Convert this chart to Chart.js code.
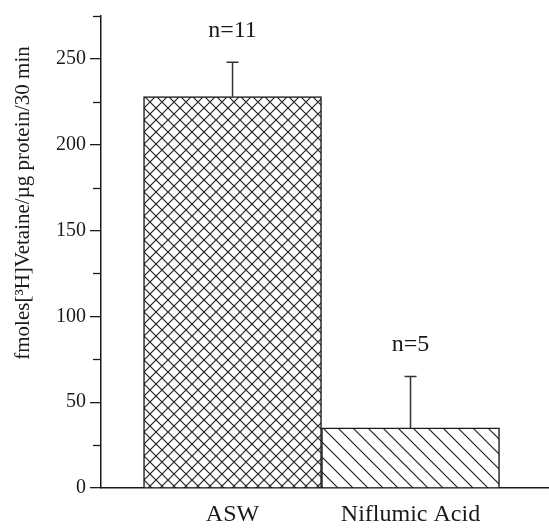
<!DOCTYPE html>
<html>
<head>
<meta charset="utf-8">
<script src="https://cdn.jsdelivr.net/npm/chart.js@4"></script>
<style>
  html, body { margin: 0; padding: 0; background: #fff; }
  #wrap { width: 549px; height: 530px; }
</style>
</head>
<body>
<div id="wrap"><canvas id="c" width="549" height="530"></canvas></div>
<script>
// Betaine uptake under two conditions
const categories = ['ASW', 'Niflumic Acid'];
const uptakeMean = [228, 35];
const uptakeSE = [20, 30];
const sampleLabels = ['n=11', 'n=5'];
const majorTicks = [0, 50, 100, 150, 200, 250];
const minorTicks = [25, 75, 125, 175, 225, 275];
const yTitle = 'fmoles[\u00B3H]Vetaine/\u00B5g protein/30 min';

const SERIF = '"Liberation Serif", "Times New Roman", serif';
const INK = '#1a1a1a';

function crossHatch() {
  const s = 12, c = document.createElement('canvas');
  c.width = s; c.height = s;
  const g = c.getContext('2d');
  g.fillStyle = '#fff'; g.fillRect(0, 0, s, s);
  g.strokeStyle = '#222'; g.lineWidth = 1.2;
  g.beginPath();
  g.moveTo(-1, -1); g.lineTo(s + 1, s + 1);
  g.moveTo(s + 1, -1); g.lineTo(-1, s + 1);
  g.stroke();
  return g.createPattern(c, 'repeat');
}
function diagHatch() {
  const s = 15, c = document.createElement('canvas');
  c.width = s; c.height = s;
  const g = c.getContext('2d');
  g.fillStyle = '#fff'; g.fillRect(0, 0, s, s);
  g.strokeStyle = '#222'; g.lineWidth = 1.2;
  g.beginPath();
  g.moveTo(-2, -2); g.lineTo(s + 2, s + 2);
  g.moveTo(-2, s - 2); g.lineTo(2, s + 2);
  g.moveTo(s - 2, -2); g.lineTo(s + 2, 2);
  g.stroke();
  return g.createPattern(c, 'repeat');
}

const points = categories.map((c, i) => ({ x: i + 1, y: uptakeMean[i] }));

const annotations = {
  id: 'annotations',
  afterDatasetsDraw(chart) {
    const { ctx, scales: { x, y } } = chart;
    ctx.save();
    // error bars
    ctx.strokeStyle = '#333';
    ctx.lineWidth = 1.5;
    points.forEach((p, i) => {
      const px = x.getPixelForValue(p.x);
      const y0 = y.getPixelForValue(uptakeMean[i]);
      const y1 = y.getPixelForValue(uptakeMean[i] + uptakeSE[i]);
      ctx.beginPath();
      ctx.moveTo(px, y0); ctx.lineTo(px, y1);
      ctx.moveTo(px - 6, y1); ctx.lineTo(px + 6, y1);
      ctx.stroke();
      // sample size label
      ctx.fillStyle = INK;
      ctx.font = '24px ' + SERIF;
      ctx.textAlign = 'center';
      ctx.textBaseline = 'alphabetic';
      ctx.fillText(sampleLabels[i], px, y1 - 25);
    });
    // minor ticks on the value axis
    ctx.strokeStyle = INK;
    ctx.lineWidth = 1.3;
    minorTicks.forEach(v => {
      const py = Math.round(y.getPixelForValue(v)) + 0.5;
      ctx.beginPath();
      ctx.moveTo(y.right - 8, py); ctx.lineTo(y.right, py);
      ctx.stroke();
    });
    // value axis title
    ctx.translate(23, 203);
    ctx.rotate(-Math.PI / 2);
    ctx.fillStyle = INK;
    ctx.font = '21px ' + SERIF;
    ctx.textAlign = 'center';
    ctx.textBaseline = 'middle';
    ctx.fillText(yTitle, 0, 0);
    ctx.restore();
  }
};

new Chart(document.getElementById('c'), {
  type: 'bar',
  data: {
    datasets: [{
      data: points,
      backgroundColor: [crossHatch(), diagHatch()],
      borderColor: INK,
      borderWidth: 1.5,
      borderSkipped: 'bottom',
      barPercentage: 1,
      categoryPercentage: 1
    }]
  },
  options: {
    responsive: false,
    animation: false,
    layout: { padding: { top: 7, right: 0, left: 0, bottom: 0 } },
    plugins: { legend: { display: false }, tooltip: { enabled: false } },
    scales: {
      x: {
        type: 'linear',
        offset: false,
        min: 0.261,
        max: 2.778,
        grid: { display: false, drawTicks: false },
        border: { display: true, color: INK, width: 1.5 },
        afterBuildTicks(scale) { scale.ticks = categories.map((c, i) => ({ value: i + 1 })); },
        afterFit(scale) { scale.height = 42; },
        ticks: {
          padding: 12,
          color: INK,
          font: { family: SERIF, size: 24 },
          callback: v => categories[v - 1]
        }
      },
      y: {
        min: 0,
        max: 275,
        afterBuildTicks(scale) { scale.ticks = majorTicks.map(v => ({ value: v })); },
        afterFit(scale) { scale.width = 101; },
        grid: { drawOnChartArea: false, drawTicks: true, tickLength: 11, color: INK, lineWidth: 1.3 },
        border: { display: true, color: INK, width: 1.5 },
        ticks: {
          padding: 4,
          color: INK,
          font: { family: SERIF, size: 20 }
        }
      }
    }
  },
  plugins: [annotations]
});
</script>
</body>
</html>
